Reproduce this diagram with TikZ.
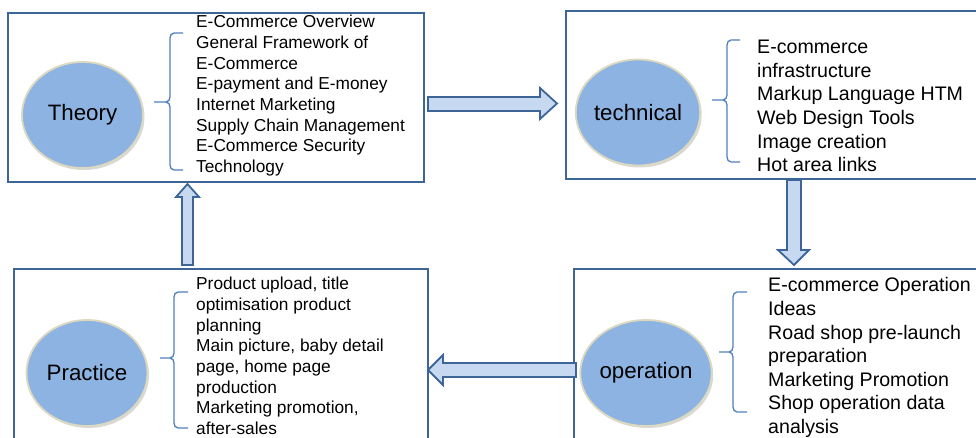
\documentclass[tikz,border=0pt]{standalone}
\usepackage{fontspec}
\setmainfont{Liberation Sans}
\usetikzlibrary{shapes.geometric,shadows}
\definecolor{boxblue}{RGB}{62,101,152}
\definecolor{arrowfill}{RGB}{198,217,241}
\definecolor{ellfill}{RGB}{141,179,226}
\definecolor{ellline}{RGB}{221,216,192}
\definecolor{braceblue}{RGB}{79,129,189}
\tikzset{
  panel/.style={draw=boxblue, line width=1.8pt, fill=white,
    drop shadow={opacity=0.25, shadow xshift=1pt, shadow yshift=-1.5pt}},
  topic/.style={ellipse, draw=ellline, line width=1.8pt, fill=ellfill,
    inner sep=0pt, minimum width=121pt, minimum height=106pt,
    font=\fontsize{22.3}{24}\selectfont,
    drop shadow={opacity=0.3, shadow xshift=1.5pt, shadow yshift=-2pt}},
  listA/.style={anchor=north west, align=left, inner sep=0pt,
    font=\fontsize{17.3}{20.7}\selectfont},
  listB/.style={anchor=north west, align=left, inner sep=0pt,
    font=\fontsize{19.6}{23.6}\selectfont},
  bracket/.style={draw=braceblue, line width=1.3pt},
  blockarrow/.style={draw=boxblue, line width=1.8pt, fill=arrowfill, line join=miter}
}
\begin{document}
\begin{tikzpicture}[x=1pt,y=-1pt]
\useasboundingbox (0,0) rectangle (976,438);
\clip (0,0) rectangle (976,438);

% panels
\node[panel, anchor=north west, minimum width=416pt, minimum height=169pt, inner sep=0pt] (ptheory) at (7,12) {};
\node[panel, anchor=north west, minimum width=420pt, minimum height=168pt, inner sep=0pt] (ptech) at (565,10) {};
\node[panel, anchor=north west, minimum width=414pt, minimum height=180pt, inner sep=0pt] (ppractice) at (13,268) {};
\node[panel, anchor=north west, minimum width=420pt, minimum height=180pt, inner sep=0pt] (poper) at (573,268) {};

% ellipses
\node[topic] (theory) at (82.5,115) {Theory};
\node[topic] (technical) at (638,112.5) {technical};
\node[topic] (practice) at (87,373) {Practice};
\node[topic] (operation) at (646,373) {operation};

% braces
\draw[bracket] (183,33) -- (174,33) to[out=180,in=90] (170,38) -- (170,97)
  to[out=-90,in=0] (166,102) -- (154,102) -- (166,102) to[out=0,in=90] (170,107)
  -- (170,165) to[out=-90,in=180] (174,170) -- (183,170);
\draw[bracket] (740,40) -- (731,40) to[out=180,in=90] (727,45) -- (727,95)
  to[out=-90,in=0] (723,100) -- (712,100) -- (723,100) to[out=0,in=90] (727,105)
  -- (727,157) to[out=-90,in=180] (731,162) -- (740,162);
\draw[bracket] (188,292) -- (178,292) to[out=180,in=90] (174,297) -- (174,353)
  to[out=-90,in=0] (170,358) -- (160,358) -- (170,358) to[out=0,in=90] (174,363)
  -- (174,423) to[out=-90,in=180] (178,428) -- (188,428);
\draw[bracket] (747,292) -- (737,292) to[out=180,in=90] (733,297) -- (733,347)
  to[out=-90,in=0] (729,352) -- (719,352) -- (729,352) to[out=0,in=90] (733,357)
  -- (733,407) to[out=-90,in=180] (737,412) -- (747,412);

% lists
\node[listA] (ltheory) at (196,15) {E-Commerce Overview\\General Framework of\\E-Commerce\\E-payment and E-money\\Internet Marketing\\Supply Chain Management\\E-Commerce Security\\Technology};
\node[listB] (ltech) at (757,40) {E-commerce\\infrastructure\\Markup Language HTM\\Web Design Tools\\Image creation\\Hot area links};
\node[listA] (lpractice) at (196,277) {Product upload, title\\optimisation product\\planning\\Main picture, baby detail\\page, home page\\production\\Marketing promotion,\\after-sales};
\node[listB] (loper) at (768,277.5) {E-commerce Operation\\Ideas\\Road shop pre-launch\\preparation\\Marketing Promotion\\Shop operation data\\analysis};

% block arrows
\draw[blockarrow] (428,97) -- (540,97) -- (540,88) -- (557,103.5) -- (540,119) -- (540,111) -- (428,111) -- cycle;
\draw[blockarrow] (787,180) -- (801,180) -- (801,250) -- (809,250) -- (794,265) -- (778,250) -- (787,250) -- cycle;
\draw[blockarrow] (576,363) -- (443,363) -- (443,355) -- (428,370) -- (443,385) -- (443,377) -- (576,377) -- cycle;
\draw[blockarrow] (182,265) -- (182,197) -- (176,197) -- (187.5,184) -- (199,197) -- (193,197) -- (193,265) -- cycle;
\end{tikzpicture}
\end{document}
